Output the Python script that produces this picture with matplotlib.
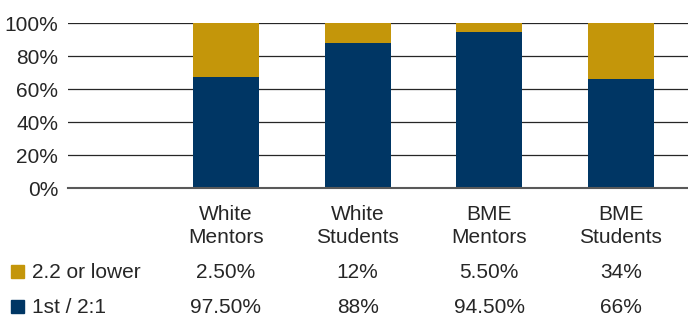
import matplotlib
matplotlib.use("Agg")
import matplotlib.pyplot as plt
import matplotlib.patches as mpatches
from matplotlib.transforms import blended_transform_factory

# categories (first slot on the axis is left empty, like the source chart)
categories = ['White\nMentors', 'White\nStudents', 'BME\nMentors', 'BME\nStudents']
series_names = ['2.2 or lower', '1st / 2:1']

# bar heights as drawn in the picture (%)
first_21 = [67.5, 88, 94.5, 66]
lower_22 = [32.5, 12, 5.5, 34]

# values printed in the data table
table_lower = ['2.50%', '12%', '5.50%', '34%']
table_first = ['97.50%', '88%', '94.50%', '66%']

yticks = [0, 20, 40, 60, 80, 100]
ytick_labels = ['0%', '20%', '40%', '60%', '80%', '100%']

gold = '#C4960A'
navy = '#003664'
txt = '#262626'

W, H = 688, 318


def main():
        plt.rcParams.update({'font.family': ['Liberation Sans', 'DejaVu Sans'],
                             'font.size': 15})

        fig = plt.figure(figsize=(W / 100, H / 100), dpi=100)
        ax = fig.add_axes([68 / W, 1 - 188 / H, 620 / W, (188 - 23.3) / H])

        x = [1, 2, 3, 4]
        ax.bar(x, first_21, width=0.5, color=navy, zorder=3)
        ax.bar(x, lower_22, width=0.5, bottom=first_21, color=gold, zorder=3)

        ax.set_xlim(-0.2, 4.51)
        ax.set_ylim(0, 100)
        for y in yticks[1:]:
                ax.axhline(y, color=txt, lw=0.9, zorder=1)
        ax.set_yticks(yticks)
        ax.set_yticklabels(ytick_labels, color=txt)
        ax.set_xticks([])
        ax.tick_params(axis='y', length=0, pad=7)
        for s in ['top', 'right', 'left']:
                ax.spines[s].set_visible(False)
        ax.spines['bottom'].set_color('#595959')
        ax.spines['bottom'].set_linewidth(1.5)
        ax.spines['bottom'].set_zorder(4)

        # data table below the chart
        tr = blended_transform_factory(ax.transData, fig.transFigure)
        for xi, cat in zip(x, categories):
                top, bottom = cat.split('\n')
                ax.text(xi, 1 - 220 / H, top, transform=tr, ha='center', va='baseline', color=txt)
                ax.text(xi, 1 - 243 / H, bottom, transform=tr, ha='center', va='baseline', color=txt)
        for xi, a, b in zip(x, table_lower, table_first):
                ax.text(xi, 1 - 278 / H, a, transform=tr, ha='center', va='baseline', color=txt)
                ax.text(xi, 1 - 313 / H, b, transform=tr, ha='center', va='baseline', color=txt)

        for name, col, base in [(series_names[0], gold, 278), (series_names[1], navy, 313)]:
                fig.patches.append(mpatches.Rectangle((11 / W, 1 - base / H), 13 / W, 13 / H,
                                                      color=col, transform=fig.transFigure))
                fig.text(32 / W, 1 - base / H, name, ha='left', va='baseline', color=txt)

        fig.savefig('out.png', dpi=100)


if __name__ == "__main__":
    main()
